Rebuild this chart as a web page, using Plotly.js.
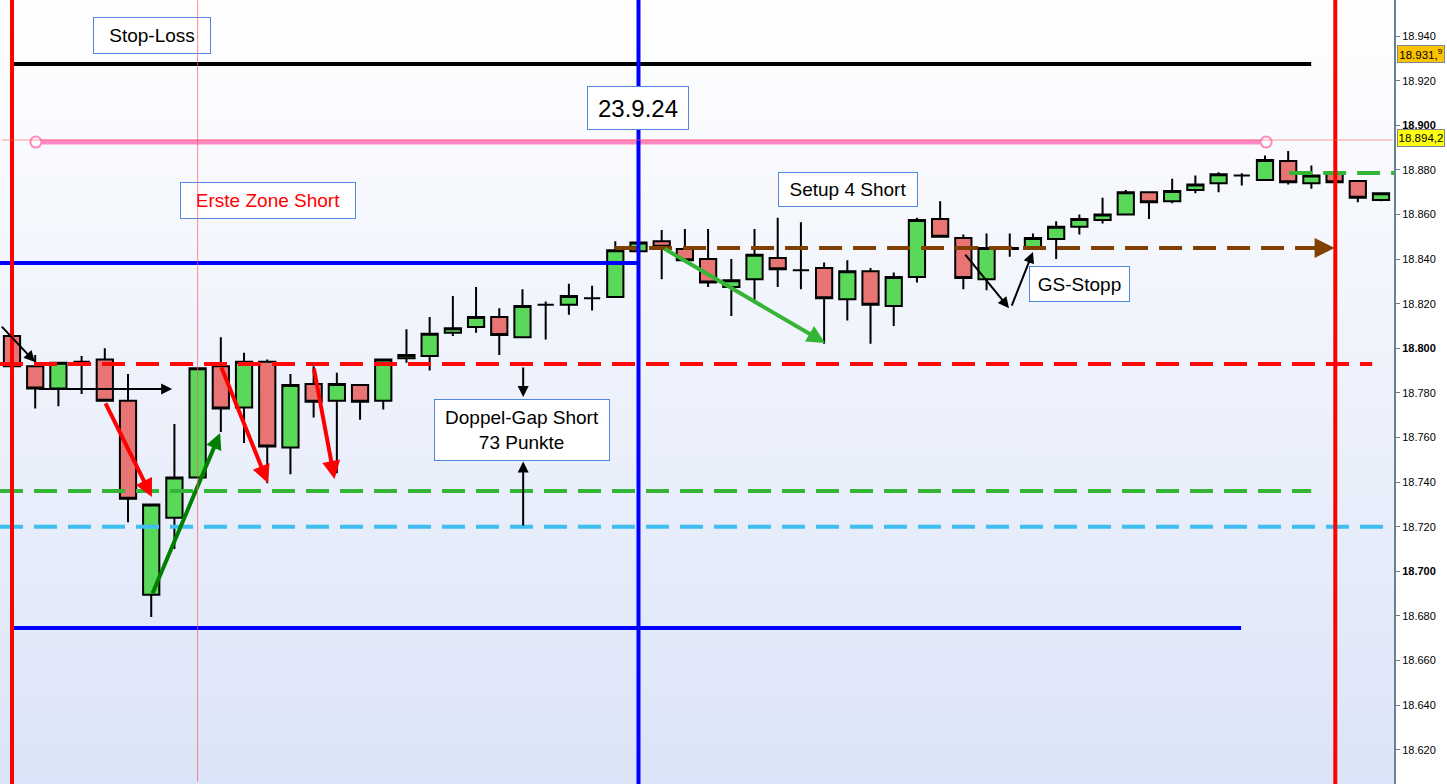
<!DOCTYPE html>
<html>
<head>
<meta charset="utf-8">
<script src="https://cdn.plot.ly/plotly-3.0.1.min.js"></script>
<style>
  html, body { margin: 0; padding: 0; background: #ffffff; }
  #chart { width: 1447px; height: 784px; }
</style>
</head>
<body>
<div id="chart"></div>
<script>
// ---------- DATA ----------
const candleIndex = Array.from({length: 60}, (_, i) => i);
const openVals = [18805.5, 18792, 18782, 18794, 18795, 18776.5, 18689.5, 18724, 18742, 18792,
  18773.5, 18794, 18755.5, 18784, 18776.5, 18783.5, 18776.5, 18795.5, 18796.5, 18807,
  18809.5, 18814, 18805, 18819.5, 18819.5, 18822.5, 18823, 18843.5, 18848, 18844.5,
  18840, 18827.5, 18831, 18840.5, 18835, 18836, 18822, 18834.5, 18819, 18832,
  18858, 18849.5, 18831, 18845, 18845, 18849, 18854.5, 18857.5, 18860, 18870,
  18866, 18871, 18874, 18877.5, 18875.5, 18884, 18874, 18879, 18875, 18866.5];
const highVals = [18806, 18797, 18793.5, 18796.5, 18800, 18788.5, 18730, 18766, 18791, 18805,
  18798, 18795, 18788.5, 18792, 18789, 18784, 18795, 18808.5, 18814, 18823.5,
  18827.5, 18818, 18826.5, 18821, 18829, 18828, 18848, 18848, 18853, 18853.5,
  18853.5, 18840, 18853.5, 18858.5, 18856.5, 18838.5, 18839.5, 18836, 18834, 18858.5,
  18866, 18851, 18851.5, 18851.5, 18851.5, 18857, 18860, 18867.5, 18871, 18870,
  18876, 18877.5, 18879, 18878.5, 18886.5, 18888.5, 18882, 18879, 18875, 18869.5];
const lowVals = [18792, 18773, 18774, 18779.5, 18776.5, 18722, 18679.5, 18710, 18742, 18762.5,
  18757.5, 18739.5, 18743.5, 18769, 18744, 18768, 18772.5, 18793.5, 18790, 18805.5,
  18807, 18797, 18804.5, 18804, 18815, 18817, 18823, 18843.5, 18831, 18839.5,
  18827.5, 18814.5, 18821.5, 18827.5, 18826.5, 18802, 18812.5, 18802, 18810, 18829.5,
  18850, 18826.5, 18826, 18841, 18845, 18840, 18851, 18856, 18860, 18858,
  18865, 18869.5, 18870, 18873, 18875, 18873.5, 18871.5, 18874.5, 18865.5, 18866];
const closeVals = [18792, 18782, 18793.5, 18794, 18776.5, 18732.5, 18730, 18742, 18791, 18773,
  18794, 18756, 18783.5, 18776, 18784, 18776, 18795, 18797, 18806.5, 18809,
  18814, 18806, 18819, 18819.5, 18823.5, 18822.5, 18844, 18847.5, 18845.5, 18839.5,
  18829.5, 18830.5, 18842, 18835.5, 18835, 18822.5, 18834.5, 18819.5, 18832, 18857.5,
  18850, 18831.5, 18845, 18844.5, 18849.5, 18854.5, 18858, 18860, 18870, 18865.5,
  18870.5, 18873.5, 18878, 18877.5, 18884.5, 18874.5, 18877.5, 18874.5, 18867.5, 18869.5];

const tickValues = [18620, 18640, 18660, 18680, 18700, 18720, 18740, 18760, 18780, 18800,
  18820, 18840, 18860, 18880, 18900, 18920, 18940];
const tickLabels = ['18.620', '18.640', '18.660', '18.680', '<b>18.700</b>', '18.720', '18.740',
  '18.760', '18.780', '<b>18.800</b>', '18.820', '18.840', '18.860', '18.880', '<b>18.900</b>',
  '18.920', '18.940'];

// price levels
const stopLossLevel = 18927.5;
const pinkLevel = 18892.5;
const crosshairLevel = 18893.4;
const blueUpperLevel = 18838.3;
const blueLowerLevel = 18674.6;
const redDashLevel = 18793;
const greenDashLevel = 18736;
const lightBlueDashLevel = 18720;
const brownDashLevel = 18845;
const greenDashRightLevel = 18878.6;
const axisLabelHigh = 18931.9;
const axisLabelPink = 18894.2;

// text labels
const boxTexts = ['Stop-Loss', '23.9.24', 'Erste Zone Short', 'Setup 4 Short',
  'Doppel-Gap Short<br>73 Punkte', 'GS-Stopp'];
const axisTagTexts = ['18.931,<sup>9</sup>', '18.894,2'];

// ---------- CHART ----------
const FONT = 'Liberation Sans, Arial, sans-serif';
const X0 = -0.517, X1 = 59.56;
const Y0 = 18604.6, Y1 = 18956.2;

const candles = {
  type: 'candlestick',
  x: candleIndex, open: openVals, high: highVals, low: lowVals, close: closeVals,
  increasing: {fillcolor: '#5ad85a', line: {color: '#000000', width: 2}},
  decreasing: {fillcolor: '#e87474', line: {color: '#000000', width: 2}},
  whiskerwidth: 0,
  hoverinfo: 'skip',
  showlegend: false
};

const pinkLine = {
  type: 'scatter', mode: 'lines+markers',
  x: [1.03, 54.05], y: [pinkLevel, pinkLevel],
  line: {color: '#ff88c4', width: 5},
  marker: {size: 11, color: '#ffffff', line: {color: '#ff88c4', width: 2}},
  hoverinfo: 'skip', showlegend: false
};

function hline(y, xa, xb, color, width, dash) {
  return {type: 'line', xref: 'x', yref: 'y', x0: xa, x1: xb, y0: y, y1: y,
    line: {color: color, width: width, dash: dash || 'solid'}, layer: 'above'};
}
function vline(x, color, width) {
  return {type: 'line', xref: 'x', yref: 'paper', x0: x, x1: x, y0: 0, y1: 1,
    line: {color: color, width: width}, layer: 'above'};
}
const DASH = '23px,11px';
const shapes = [
  hline(redDashLevel, X0, 58.62, '#ff0a0a', 4, DASH),
  hline(greenDashLevel, X0, 55.99, '#35b535', 4, DASH),
  hline(lightBlueDashLevel, X0, X1, '#3fbef2', 4, DASH),
  hline(brownDashLevel, 25.99, 56.3, '#7f4000', 4, DASH),
  hline(greenDashRightLevel, 55.04, X1, '#35b535', 4, DASH),
  hline(stopLossLevel, 0.09, 55.99, '#000000', 4),
  hline(blueUpperLevel, X0, 27.03, '#0000ff', 4),
  hline(blueLowerLevel, 0.09, 52.97, '#0000ff', 4),
  vline(0, '#ff0000', 4),
  vline(57.03, '#ff0000', 4),
  vline(27.0, '#0000ff', 4)
];

function arrow(x, y, ax, ay, color, width, size) {
  return {x: x, y: y, ax: ax, ay: ay, xref: 'x', yref: 'y', axref: 'x', ayref: 'y',
    text: '', showarrow: true, arrowhead: 2, arrowsize: size, arrowwidth: width,
    arrowcolor: color, standoff: 0, startstandoff: 0};
}
function box(x, y, text, w, h, size, color) {
  return {x: x, y: y, xref: 'x', yref: 'y', text: text, showarrow: false,
    font: {family: FONT, size: size, color: color || '#000000'},
    bgcolor: '#ffffff', bordercolor: '#5289e0', borderwidth: 1, borderpad: 0,
    width: w - 2, height: h - 2, align: 'center', valign: 'middle',
    xanchor: 'center', yanchor: 'middle'};
}
function axisTag(y, text, bg) {
  return {x: 1.0025, y: y, xref: 'paper', yref: 'y', xanchor: 'left', yanchor: 'middle',
    text: text, showarrow: false, bgcolor: bg, bordercolor: '#7d8893',
    borderwidth: 1, borderpad: 0, width: 46, height: 16, align: 'center',
    font: {family: FONT, size: 11.5, color: '#000000'}};
}

const annotations = [
  arrow(0.99, 18793.9, -0.5, 18810.4, '#000000', 2, 1.1),
  arrow(6.9, 18781.8, 1.08, 18781.8, '#000000', 2, 1.1),
  arrow(6.03, 18733.3, 4.0, 18776, '#ff0000', 4, 0.9),
  arrow(8.97, 18762, 6.03, 18689.5, '#008000', 4, 0.8),
  arrow(11.03, 18739.6, 9.0, 18792.1, '#ff0000', 4, 0.9),
  arrow(13.9, 18741.4, 13.0, 18791.6, '#ff0000', 4, 0.9),
  arrow(22.03, 18778.2, 22.03, 18792.1, '#000000', 2, 1.1),
  arrow(22.03, 18749.2, 22.03, 18719.9, '#000000', 2, 1.1),
  arrow(35.04, 18802.4, 28.06, 18845, '#35b535', 4, 0.9),
  arrow(42.97, 18818, 41.03, 18842.7, '#000000', 2, 1.1),
  arrow(44.0, 18843.2, 43.06, 18818.5, '#000000', 2, 1.1),
  arrow(57.0, brownDashLevel, 56.2, brownDashLevel, '#7f4000', 4, 1.0),
  box(6.03, 18940.3, boxTexts[0], 118, 37, 19),
  box(26.98, 18907.7, boxTexts[1], 102, 44, 24),
  box(11.03, 18866.3, boxTexts[2], 176, 37, 19, '#ff0000'),
  box(36.03, 18871.2, boxTexts[3], 140, 35, 19),
  box(21.98, 18763.4, boxTexts[4], 176, 62, 19),
  box(46.01, 18828.8, boxTexts[5], 101, 36, 19),
  // thin crosshair (drawn above the text boxes)
  {x: 8, y: 18956, ax: 8, ay: 18605, xref: 'x', yref: 'y', axref: 'x', ayref: 'y',
    text: '', showarrow: true, arrowhead: 0, arrowwidth: 1, arrowcolor: 'rgba(255,90,90,0.7)',
    standoff: 0, startstandoff: 0},
  {x: 59.5, y: crosshairLevel, ax: -0.5, ay: crosshairLevel, xref: 'x', yref: 'y', axref: 'x', ayref: 'y',
    text: '', showarrow: true, arrowhead: 0, arrowwidth: 1, arrowcolor: 'rgba(255,90,90,0.6)',
    standoff: 0, startstandoff: 0},
  // axis value tags
  axisTag(axisLabelHigh, axisTagTexts[0], '#fcc400'),
  axisTag(axisLabelPink, axisTagTexts[1], '#ffff10')
];

const svgBg = "<svg xmlns='http://www.w3.org/2000/svg' width='100' height='100' viewBox='0 0 100 100' preserveAspectRatio='none'>" +
  "<defs><linearGradient id='g' x1='0' y1='0' x2='0' y2='1'>" +
  "<stop offset='0' stop-color='#ffffff'/><stop offset='1' stop-color='#dbe4f8'/>" +
  "</linearGradient></defs><rect width='100' height='100' fill='url(#g)'/></svg>";

const layout = {
  width: 1447, height: 784,
  margin: {l: 0, r: 53, t: 0, b: 0, pad: 0},
  paper_bgcolor: '#ffffff',
  plot_bgcolor: 'rgba(0,0,0,0)',
  boxgap: 0,
  showlegend: false,
  xaxis: {range: [X0, X1], showgrid: false, zeroline: false, showticklabels: false,
    showline: false, ticks: '', rangeslider: {visible: false}, fixedrange: true},
  yaxis: {range: [Y0, Y1], side: 'right', showgrid: false, zeroline: false,
    tickmode: 'array', tickvals: tickValues, ticktext: tickLabels,
    ticks: 'outside', ticklen: 4, tickcolor: '#6b7f93', tickwidth: 1,
    showline: true, linecolor: '#6b7f93', linewidth: 2,
    tickfont: {family: FONT, size: 11, color: '#000000'}, fixedrange: true},
  images: [{
    source: 'data:image/svg+xml;charset=utf-8,' + encodeURIComponent(svgBg),
    xref: 'paper', yref: 'paper', x: 0, y: 1, sizex: 1, sizey: 1,
    sizing: 'stretch', layer: 'below', xanchor: 'left', yanchor: 'top'
  }],
  shapes: shapes,
  annotations: annotations
};

Plotly.newPlot('chart', [candles, pinkLine], layout, {displayModeBar: false, staticPlot: true});
</script>
</body>
</html>
